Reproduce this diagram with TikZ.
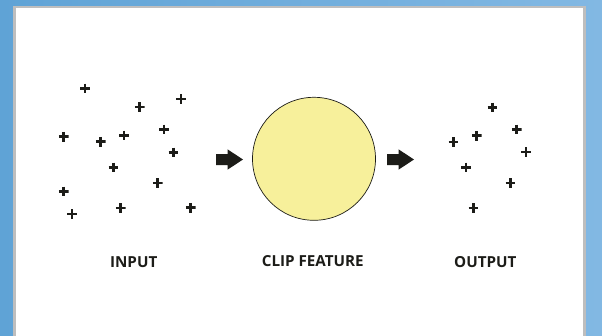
\documentclass[tikz,border=0pt]{standalone}
\usepackage{fontspec}
\setmainfont{Open Sans}
\usetikzlibrary{calc}
\definecolor{bgL}{HTML}{5FA3D6}
\definecolor{bgR}{HTML}{82B8E3}
\definecolor{frame}{HTML}{BEBEBE}
\definecolor{clipfill}{HTML}{F7F09B}
\definecolor{ink}{HTML}{1C1C18}
\tikzset{
  plusmark/.style={minimum size=9.6pt, inner sep=0pt, outer sep=0pt,
    path picture={
      \draw[ink, line width=2.7pt]
        (path picture bounding box.west) -- (path picture bounding box.east)
        (path picture bounding box.north) -- (path picture bounding box.south);
    }},
  lbl/.style={anchor=base, text=ink, font=\fontsize{15.2}{15.2}\selectfont\bfseries, inner sep=0pt},
  fatarrow/.style={fill=ink, draw=none},
}
\begin{document}
\begin{tikzpicture}[x=1pt,y=-1pt]
\useasboundingbox (0,0) rectangle (602,335);
\shade[left color=bgL, right color=bgR] (0,0) rectangle (602,335);
\draw[frame, line width=2.7pt, fill=white] (14.7,7.1) rectangle (584.7,345);

% input points
\foreach \n/\x/\y in {1/85/88.3, 2/181/99, 3/139.7/107, 4/63.7/136.7, 5/100.7/141.7,
  6/124/135.3, 7/164/129.3, 8/173.3/152.3, 9/113.3/167.3, 10/63.7/191.3,
  11/72/214, 12/120.7/208, 13/157.7/183, 14/190.7/207.7}
  \node[plusmark] (in\n) at (\x,\y) {};

% output points
\foreach \n/\x/\y in {1/492.3/107.3, 2/516.7/129.3, 3/476.7/135.7, 4/453.3/142,
  5/526/152, 6/466/167.3, 7/510.3/183, 8/473.3/208}
  \node[plusmark] (out\n) at (\x,\y) {};

% clip feature
\node[circle, draw=ink, line width=0.7pt, fill=clipfill, minimum size=123pt, inner sep=0pt] (clip) at (314,158.8) {};

% fat arrows
\coordinate (a1) at (216,159.5);
\coordinate (a2) at (387,159.5);
\foreach \c in {a1,a2}
  \fill[fatarrow] ($(\c)+(0,-5.5)$) -- ++(11.5,0) -- ++(0,-4.7) -- ($(\c)+(27,0)$)
    -- ($(\c)+(11.5,10.2)$) -- ++(0,-4.7) -- ($(\c)+(0,5.5)$) -- cycle;

% labels
\node[lbl] (linput) at (133.7,267.5) {INPUT};
\node[lbl] (lclip) at (312.8,266.3) {CLIP FEATURE};
\node[lbl] (loutput) at (485.3,267.5) {OUTPUT};
\end{tikzpicture}
\end{document}
